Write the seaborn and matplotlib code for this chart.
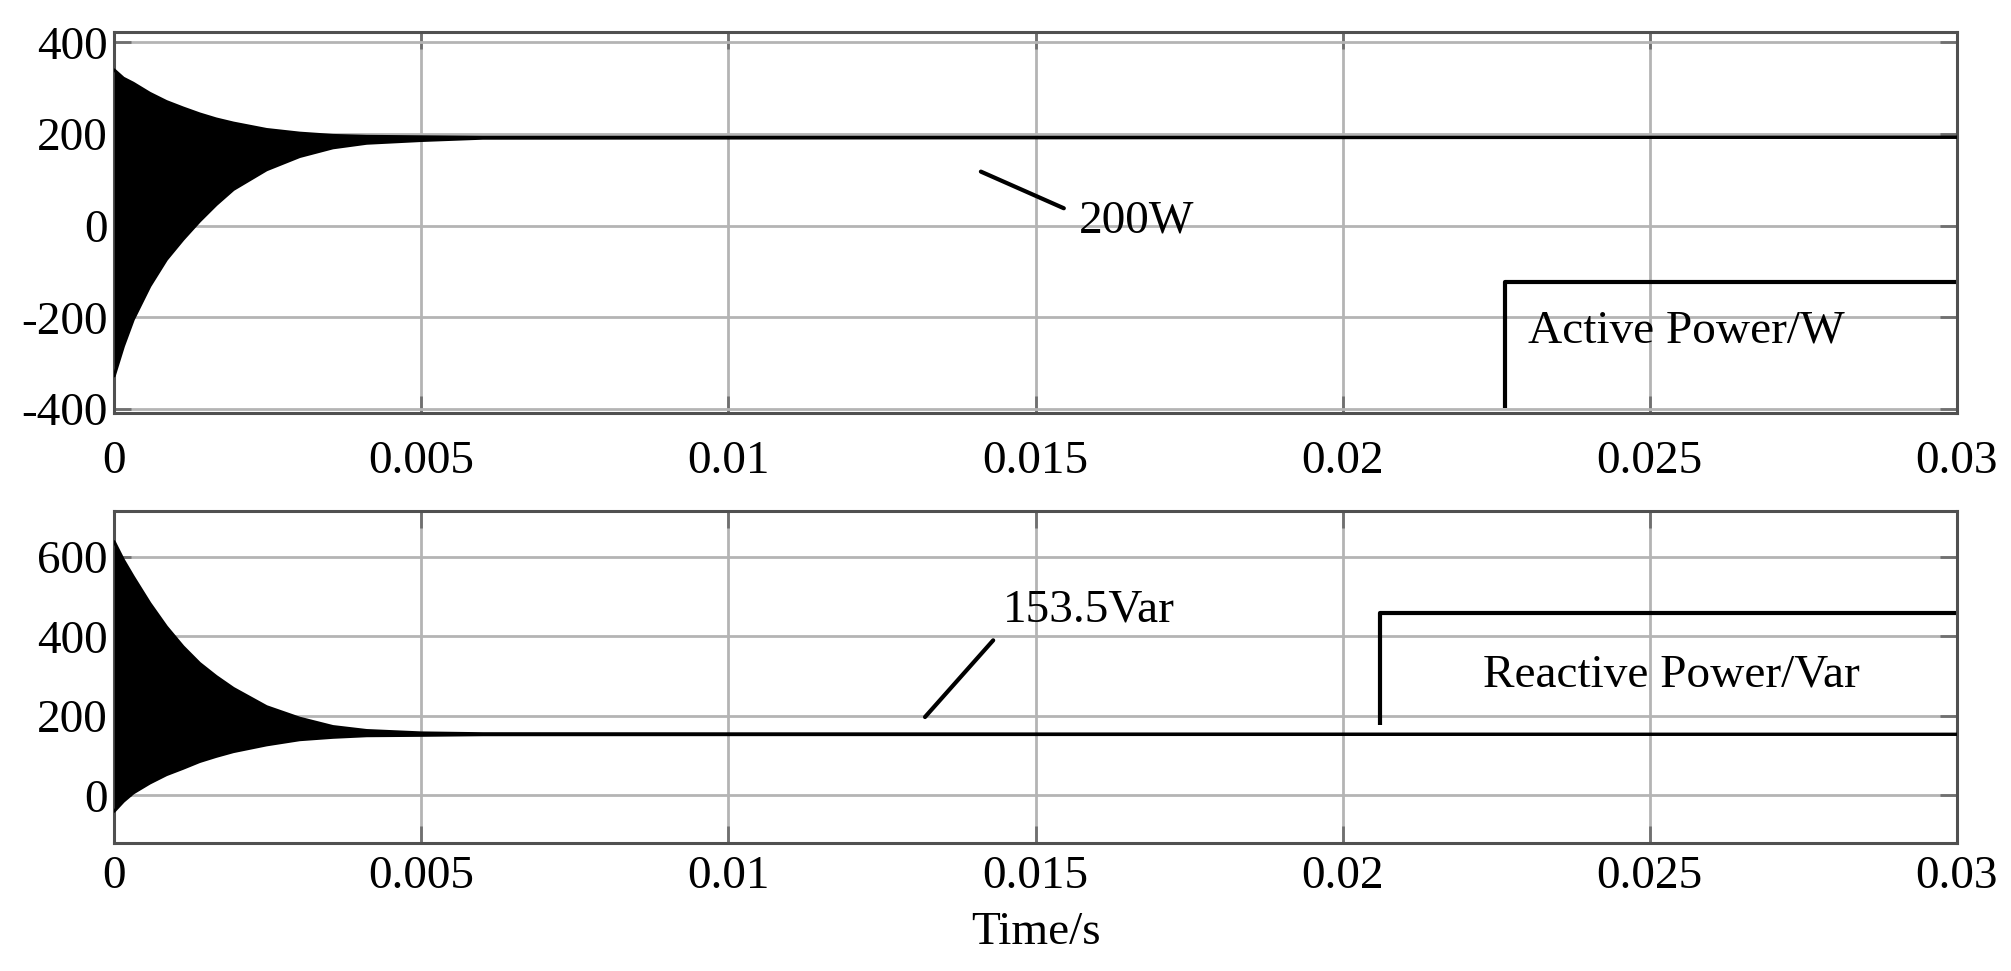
import matplotlib
matplotlib.use("Agg")
import matplotlib.pyplot as plt
import seaborn as sns
import pandas as pd

# datos (envolventes de la oscilacion)
t_env = [0, 0.00015, 0.00031, 0.00058, 0.00085, 0.00112, 0.00139, 0.00166,
         0.00194, 0.00248, 0.00302, 0.00356, 0.00411, 0.005, 0.006, 0.03]

p_sup = [340, 322, 311, 289, 271, 257, 244, 233, 224, 210, 202, 197, 195, 194, 193, 193]
p_inf = [-328, -263, -205, -132, -74, -30, 10, 46, 79, 122, 151, 170, 180, 186, 191, 193]

q_sup = [638, 592, 550, 483, 424, 374, 332, 299, 269, 223, 194, 173, 163, 157, 155, 153.5]
q_inf = [-40, -15, 6, 31, 52, 68, 85, 98, 110, 127, 140, 146, 150, 151, 152.5, 153.5]

x_ticks = [0, 0.005, 0.01, 0.015, 0.02, 0.025, 0.03]
x_labels = ["0", "0.005", "0.01", "0.015", "0.02", "0.025", "0.03"]
p_ticks = [-400, -200, 0, 200, 400]
q_ticks = [0, 200, 400, 600]

df_p = pd.DataFrame({"t": t_env, "sup": p_sup, "inf": p_inf})
df_q = pd.DataFrame({"t": t_env, "sup": q_sup, "inf": q_inf})

sns.set_theme(style="ticks")
plt.rcParams['font.family'] = ['Liberation Serif', 'DejaVu Serif']
plt.rcParams['font.size'] = 34
plt.rcParams['text.color'] = 'black'
plt.rcParams['xtick.labelcolor'] = 'black'
plt.rcParams['ytick.labelcolor'] = 'black'
plt.rcParams['axes.labelcolor'] = 'black'

fig = plt.figure(figsize=(20.11, 9.71), dpi=100)
ax1 = fig.add_axes([0.0568, 0.5747, 0.9163, 0.3924])
ax2 = fig.add_axes([0.0568, 0.1318, 0.9163, 0.3422])


def formato_eje(ax, yticks, ylim, pad_x):
    ax.set_xlim(0, 0.03)
    ax.set_ylim(*ylim)
    ax.set_xticks(x_ticks)
    ax.set_xticklabels(x_labels)
    ax.set_yticks(yticks)
    ax.set_yticklabels([str(v) for v in yticks])
    ax.grid(True, color='#b4b4b4', linewidth=2)
    ax.set_axisbelow(True)
    ax.tick_params(direction='in', length=12, width=2, color='#707070',
                   top=True, right=True, labelsize=34, labelcolor='black')
    ax.tick_params(axis='x', pad=pad_x)
    ax.tick_params(axis='y', pad=5)
    for s in ax.spines.values():
        s.set_visible(True)
        s.set_color('#505050')
        s.set_linewidth(2.2)
    ax.set_xlabel('')
    ax.set_ylabel('')


def dibujar_senal(ax, df):
    ax.fill_between(df['t'], df['inf'], df['sup'], color='black', linewidth=0, zorder=3)
    sns.lineplot(data=df, x='t', y='sup', ax=ax, color='black', linewidth=2.2, zorder=4)
    sns.lineplot(data=df, x='t', y='inf', ax=ax, color='black', linewidth=2.2, zorder=4)


# 1. potencia activa
dibujar_senal(ax1, df_p)
formato_eje(ax1, p_ticks, (-409, 423), 20)
ax1.plot([0.01411, 0.01546], [118, 38], color='black', linewidth=3)
ax1.text(0.0157, 9, '200W', ha='left', va='center', fontsize=34)
ax1.plot([0.02265, 0.02265, 0.03], [-398, -123, -123], color='black', linewidth=3,
         clip_on=False, solid_capstyle='butt')
ax1.text(0.02302, -231, 'Active Power/W', ha='left', va='center', fontsize=34)

# 2. potencia reactiva
dibujar_senal(ax2, df_q)
formato_eje(ax2, q_ticks, (-120, 716), 9)
ax2.plot([0.0132, 0.01431], [197, 390], color='black', linewidth=3)
ax2.text(0.01446, 466, '153.5Var', ha='left', va='center', fontsize=34)
ax2.plot([0.0206, 0.0206, 0.03], [176, 459, 459], color='black', linewidth=3,
         clip_on=False, solid_capstyle='butt')
ax2.text(0.02229, 302, 'Reactive Power/Var', ha='left', va='center', fontsize=34)
ax2.set_xlabel('Time/s', fontsize=34, labelpad=10)

fig.savefig('out.png', dpi=100)
plt.close()
